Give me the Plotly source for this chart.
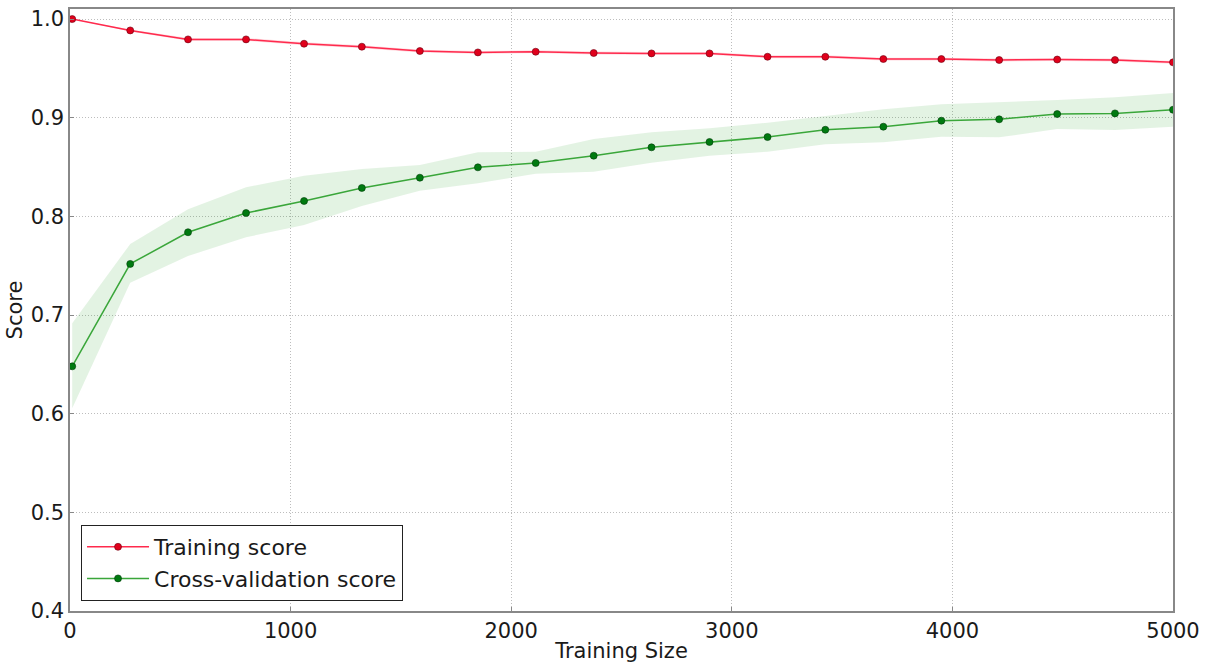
import plotly.graph_objects as go

train_sizes = [10, 273, 535, 798, 1061, 1323, 1586, 1849, 2111, 2374,
               2636, 2899, 3162, 3424, 3687, 3950, 4212, 4475, 4737, 5000]

train_mean = [1.0, 0.9885, 0.9794, 0.9794, 0.975, 0.972, 0.9676, 0.9662, 0.9669, 0.9656,
              0.9652, 0.9652, 0.9618, 0.9618, 0.9595, 0.9595, 0.9585, 0.959, 0.9585, 0.9561]
train_upper = [1.0, 0.9895, 0.9808, 0.9808, 0.9765, 0.9735, 0.969, 0.9676, 0.9683, 0.967,
               0.9666, 0.9666, 0.9632, 0.9632, 0.9609, 0.9609, 0.9599, 0.9604, 0.9599, 0.9575]
train_lower = [1.0, 0.9875, 0.978, 0.978, 0.9735, 0.9705, 0.9662, 0.9648, 0.9655, 0.9642,
               0.9638, 0.9638, 0.9604, 0.9604, 0.9581, 0.9581, 0.9571, 0.9576, 0.9571, 0.9547]

cv_mean = [0.648, 0.7518, 0.7839, 0.8034, 0.8156, 0.8288, 0.8392, 0.8497, 0.8541, 0.8615,
           0.870, 0.8754, 0.8804, 0.8878, 0.8909, 0.897, 0.8984, 0.9037, 0.9044, 0.9081]
cv_upper = [0.6917, 0.772, 0.8072, 0.8295, 0.8412, 0.848, 0.852, 0.8649, 0.8656, 0.8784,
            0.8852, 0.8893, 0.895, 0.902, 0.9085, 0.9136, 0.9156, 0.918, 0.9207, 0.925]
cv_lower = [0.6056, 0.7328, 0.7599, 0.7788, 0.7913, 0.8105, 0.826, 0.8335, 0.8433, 0.8453,
            0.8544, 0.8615, 0.8656, 0.873, 0.8751, 0.8808, 0.8801, 0.8886, 0.8875, 0.8909]

x_ticks = [0, 1000, 2000, 3000, 4000, 5000]
y_ticks = [0.4, 0.5, 0.6, 0.7, 0.8, 0.9, 1.0]

FONT = "DejaVu Sans"
FS = 21
TXT = "#1a1a1a"
fig = go.Figure()

# bands
fig.add_trace(go.Scatter(x=train_sizes, y=train_upper, mode="lines", line=dict(width=0),
                         showlegend=False, hoverinfo="skip"))
fig.add_trace(go.Scatter(x=train_sizes, y=train_lower, mode="lines", line=dict(width=0),
                         fill="tonexty", fillcolor="rgba(255,0,40,0.15)",
                         showlegend=False, hoverinfo="skip"))
fig.add_trace(go.Scatter(x=train_sizes, y=cv_upper, mode="lines", line=dict(width=0),
                         showlegend=False, hoverinfo="skip"))
fig.add_trace(go.Scatter(x=train_sizes, y=cv_lower, mode="lines", line=dict(width=0),
                         fill="tonexty", fillcolor="rgba(0,150,0,0.11)",
                         showlegend=False, hoverinfo="skip"))

fig.add_trace(go.Scatter(x=train_sizes, y=train_mean, mode="lines+markers",
                         name="Training score",
                         line=dict(color="#ff2a4d", width=1.5),
                         marker=dict(color="#e0001b", size=7,
                                     line=dict(color="#6a0010", width=0.6))))
fig.add_trace(go.Scatter(x=train_sizes, y=cv_mean, mode="lines+markers",
                         name="Cross-validation score",
                         line=dict(color="#3aa63a", width=1.5),
                         marker=dict(color="#007a10", size=7,
                                     line=dict(color="#003a08", width=0.6))))

axis_common = dict(
    showline=True, linecolor="#888888", linewidth=1.5, mirror=True,
    showgrid=True, gridcolor="#bdbdbd", griddash="1px,2px", gridwidth=1,
    zeroline=False, ticks="inside", ticklen=4, tickcolor="#888888",
    tickfont=dict(family=FONT, size=FS, color=TXT),
    automargin=False,
)

fig.update_xaxes(range=[0, 5000], tickvals=x_ticks, ticktext=[str(v) for v in x_ticks],
                 title=dict(text="Training Size", font=dict(family=FONT, size=FS, color=TXT),
                            standoff=3),
                 **axis_common)
fig.update_yaxes(range=[0.4, 1.0102], tickvals=y_ticks, ticktext=[f"{v:.1f}" for v in y_ticks],
                 title=dict(text="Score", font=dict(family=FONT, size=FS, color=TXT),
                            standoff=2),
                 **axis_common)

fig.update_layout(
    width=1217, height=663,
    margin=dict(l=70, r=44, t=9, b=52),
    paper_bgcolor="white", plot_bgcolor="white",
    font=dict(family=FONT, size=FS, color=TXT),
    legend=dict(x=0.01, y=0.0166, xanchor="left", yanchor="bottom",
                bordercolor="#222222", borderwidth=1, bgcolor="white",
                font=dict(family=FONT, size=22, color=TXT),
                itemwidth=62, tracegroupgap=0, traceorder="normal"),
    showlegend=True,
)

fig.write_html("out.html")
